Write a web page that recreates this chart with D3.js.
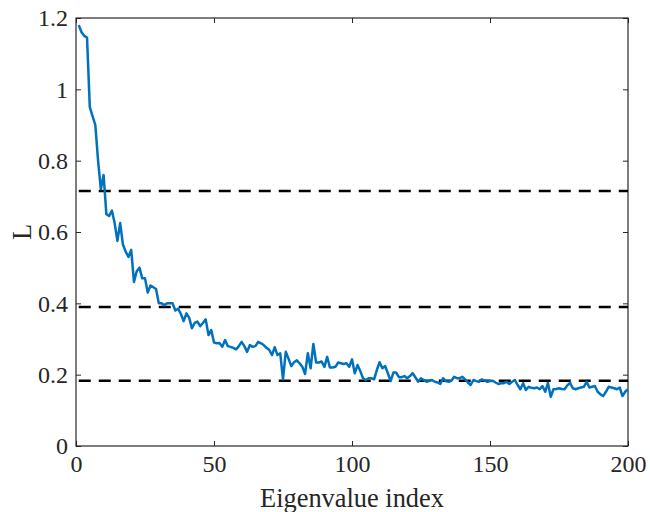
<!DOCTYPE html>
<html>
<head>
<meta charset="utf-8">
<script src="https://cdn.jsdelivr.net/npm/d3@7"></script>
<style>
  body { margin: 0; background: #fff; }
  .axis line { stroke: #262626; }
</style>
</head>
<body>
<div id="chart"></div>
<script>
// values, eigenvalue index 1..200
const L_VALUES = [
  1.18, 1.16, 1.15, 1.145, 0.95, 0.925, 0.90, 0.80, 0.72, 0.76,
  0.65, 0.645, 0.66, 0.625, 0.575, 0.625, 0.565, 0.545, 0.53, 0.55,
  0.46, 0.49, 0.50, 0.47, 0.47, 0.43, 0.45, 0.445, 0.44, 0.40,
  0.40, 0.395, 0.40, 0.40, 0.40, 0.38, 0.385, 0.37, 0.35, 0.372,
  0.36, 0.33, 0.345, 0.349, 0.336, 0.345, 0.355, 0.311, 0.325, 0.29,
  0.288, 0.289, 0.278, 0.297, 0.28, 0.278, 0.275, 0.271, 0.28, 0.292,
  0.28, 0.264, 0.283, 0.278, 0.28, 0.292, 0.288, 0.283, 0.275, 0.27,
  0.255, 0.277, 0.255, 0.26, 0.187, 0.264, 0.245, 0.224, 0.235, 0.24,
  0.232, 0.222, 0.202, 0.26, 0.218, 0.286, 0.234, 0.234, 0.237, 0.222,
  0.25, 0.22, 0.22, 0.222, 0.234, 0.232, 0.23, 0.232, 0.222, 0.243,
  0.204, 0.227, 0.21, 0.19, 0.185, 0.19, 0.19, 0.187, 0.213, 0.235,
  0.218, 0.224, 0.204, 0.182, 0.206, 0.206, 0.193, 0.193, 0.196, 0.19,
  0.196, 0.204, 0.192, 0.18, 0.19, 0.185, 0.18, 0.183, 0.185, 0.18,
  0.178, 0.174, 0.19, 0.182, 0.18, 0.183, 0.194, 0.19, 0.19, 0.194,
  0.187, 0.178, 0.171, 0.185, 0.182, 0.18, 0.187, 0.184, 0.18, 0.182,
  0.183, 0.178, 0.174, 0.176, 0.176, 0.18, 0.174, 0.18, 0.185, 0.171,
  0.159, 0.176, 0.157, 0.166, 0.163, 0.162, 0.164, 0.159, 0.168, 0.152,
  0.177, 0.138, 0.159, 0.16, 0.162, 0.16, 0.159, 0.17, 0.177, 0.162,
  0.159, 0.162, 0.164, 0.166, 0.18, 0.164, 0.166, 0.168, 0.152, 0.145,
  0.14, 0.152, 0.166, 0.164, 0.162, 0.159, 0.164, 0.14, 0.152, 0.159
];
const INDEX = L_VALUES.map((v, i) => i + 1);
// horizontal reference levels (dashed)
const THRESHOLDS = [0.715, 0.39, 0.183];
const X_TICKS = [0, 50, 100, 150, 200];
const Y_TICKS = [0, 0.2, 0.4, 0.6, 0.8, 1, 1.2];

const FONT = '"Liberation Serif", "Times New Roman", serif';
const MARGIN = { LEFT: 76, RIGHT: 22, TOP: 18, BOTTOM: 66 };
const WIDTH = 650 - MARGIN.LEFT - MARGIN.RIGHT;
const HEIGHT = 512 - MARGIN.TOP - MARGIN.BOTTOM;

const svg = d3.select("#chart").append("svg")
  .attr("width", 650)
  .attr("height", 512);

const g = svg.append("g")
  .attr("transform", `translate(${MARGIN.LEFT}, ${MARGIN.TOP})`);

const x = d3.scaleLinear().domain([0, 200]).range([0, WIDTH]);
const y = d3.scaleLinear().domain([0, 1.2]).range([HEIGHT, 0]);

// axes, ticks pointing inward like matlab
const xAxisG = g.append("g")
  .attr("class", "axis")
  .attr("transform", `translate(0, ${HEIGHT})`)
  .call(d3.axisBottom(x).tickValues(X_TICKS).tickSize(-5).tickSizeOuter(0).tickPadding(9));

const yAxisG = g.append("g")
  .attr("class", "axis")
  .call(d3.axisLeft(y).tickValues(Y_TICKS).tickSize(-5).tickSizeOuter(0).tickPadding(8)
    .tickFormat(d => String(+d.toFixed(1))));

g.append("g")
  .attr("class", "axis")
  .call(d3.axisTop(x).tickValues(X_TICKS).tickSize(-5).tickSizeOuter(0).tickFormat(""));

g.append("g")
  .attr("class", "axis")
  .attr("transform", `translate(${WIDTH}, 0)`)
  .call(d3.axisRight(y).tickValues(Y_TICKS).tickSize(-5).tickSizeOuter(0).tickFormat(""));

g.selectAll(".axis .domain").remove();
g.selectAll(".axis")
  .attr("font-family", FONT)
  .attr("font-size", 24);
g.selectAll(".axis text")
  .style("font-family", FONT)
  .style("font-size", "24px")
  .attr("fill", "#262626");

g.append("rect")
  .attr("width", WIDTH)
  .attr("height", HEIGHT)
  .attr("fill", "none")
  .attr("stroke", "#262626")
  .attr("stroke-width", 1.2);

// dashed thresholds
g.selectAll(".thresh")
  .data(THRESHOLDS)
  .enter().append("line")
  .attr("class", "thresh")
  .attr("x1", x(1))
  .attr("x2", x(200))
  .attr("y1", d => y(d))
  .attr("y2", d => y(d))
  .attr("stroke", "#000")
  .attr("stroke-width", 2.5)
  .attr("stroke-dasharray", "12,8");

// the curve
const line = d3.line()
  .x((d, i) => x(INDEX[i]))
  .y(d => y(d));

g.append("path")
  .datum(L_VALUES)
  .attr("d", line)
  .attr("fill", "none")
  .attr("stroke", "#0072BD")
  .attr("stroke-width", 2.5)
  .attr("stroke-linejoin", "round");

// labels
svg.append("text")
  .attr("x", MARGIN.LEFT + WIDTH / 2)
  .attr("y", 507)
  .attr("text-anchor", "middle")
  .style("font-family", FONT)
  .style("font-size", "26.4px")
  .attr("fill", "#262626")
  .text("Eigenvalue index");

svg.append("text")
  .attr("transform", `translate(31, ${MARGIN.TOP + HEIGHT / 2}) rotate(-90)`)
  .attr("text-anchor", "middle")
  .style("font-family", FONT)
  .style("font-size", "26.4px")
  .attr("fill", "#262626")
  .text("L");
</script>
</body>
</html>
